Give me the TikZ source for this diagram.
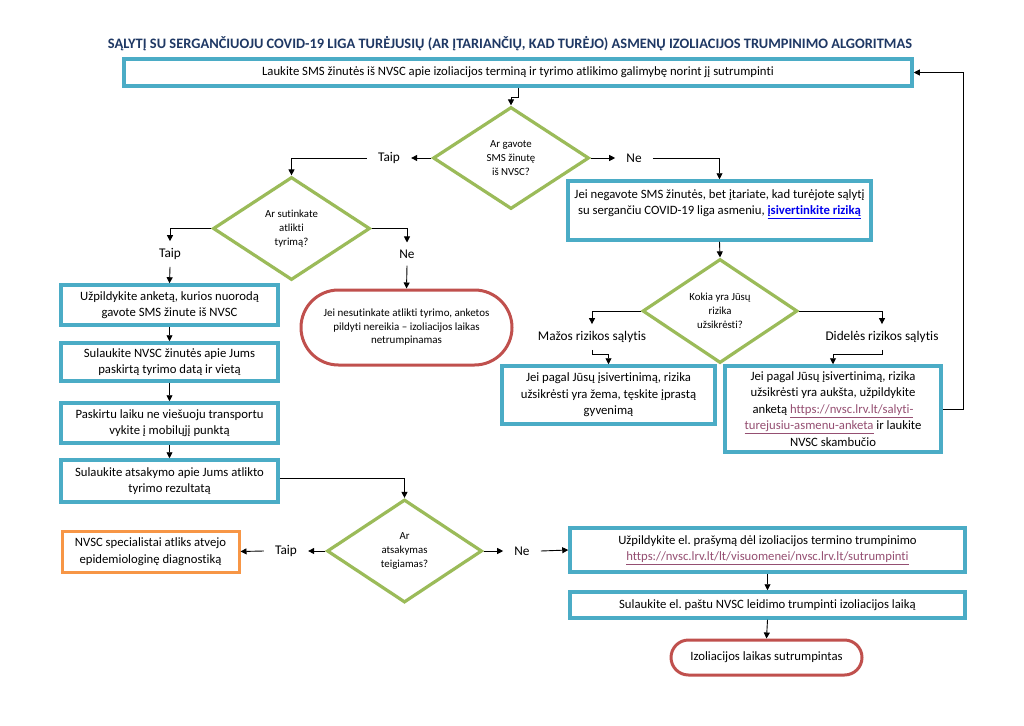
\documentclass[tikz,border=0pt]{standalone}
\usepackage{fontspec}
\setmainfont{Carlito}[Ligatures={NoCommon}]
\usetikzlibrary{shapes.geometric,shapes.misc,arrows.meta,calc}
\frenchspacing
\definecolor{tealb}{HTML}{4BACC6}
\definecolor{dgreen}{HTML}{9BBB59}
\definecolor{dred}{HTML}{C0504D}
\definecolor{dorange}{HTML}{F79646}
\definecolor{navy}{HTML}{1F3864}
\definecolor{linkb}{HTML}{0000EE}
\definecolor{linkp}{HTML}{954F72}
\newcommand{\bodyf}{\fontsize{12.7}{16.5}\selectfont}
\newcommand{\diaf}{\fontsize{10.8}{14}\selectfont}
\newcommand{\lblf}{\fontsize{13.3}{16}\selectfont}
\newcommand{\stadf}{\fontsize{11}{13.5}\selectfont}
\newcommand{\lnk}[1]{\textcolor{linkp}{\underline{#1}}}
\tikzset{
  tbox/.style={draw=tealb, line width=3.5pt, fill=white, align=center, inner sep=0pt, font=\bodyf},
  obox/.style={draw=dorange, line width=3pt, fill=white, align=center, inner sep=0pt, font=\bodyf},
  dia/.style={diamond, draw=dgreen, line width=3.2pt, fill=white, inner sep=0pt, align=center, font=\diaf},
  stad/.style={rounded rectangle, draw=dred, line width=3pt, fill=white, inner sep=0pt, align=center},
  lbl/.style={font=\lblf, inner xsep=11pt, inner ysep=7pt},
  arr/.style={-{Triangle[length=6pt,width=6pt]}, line width=0.9pt}
}
\begin{document}
\begin{tikzpicture}[x=1pt,y=-1pt]
\fill[white] (0,0) rectangle (1024,725);
\useasboundingbox (0,0) rectangle (1024,725);

\node[font=\bfseries, text=navy, inner sep=0pt] (title) at (510,44)
  {\resizebox{804pt}{!}{SĄLYTĮ SU SERGANČIUOJU COVID-19 LIGA TURĖJUSIŲ (AR ĮTARIANČIŲ, KAD TURĖJO) ASMENŲ IZOLIACIJOS TRUMPINIMO ALGORITMAS}};

\node[tbox, minimum width=788pt, minimum height=27pt] (top) at (518,72.5)
  {Laukite SMS žinutės iš NVSC apie izoliacijos terminą ir tyrimo atlikimo galimybę norint jį sutrumpinti};

\node[dia, minimum width=156pt, minimum height=102pt] (d1) at (511,158) {Ar gavote\\SMS žinutę\\iš NVSC?};
\node[lbl] (taip1) at (389,158) {Taip};
\node[lbl] (ne1) at (634,158) {Ne};

\node[tbox, minimum width=303pt, minimum height=59pt] (r1) at (719.5,210.5) {};
\node[align=center, font=\bodyf, inner sep=0pt] (r1t) at (719.5,204)
  {Jei negavote SMS žinutės, bet įtariate, kad turėjote sąlytį\\su sergančiu COVID-19 liga asmeniu, \textcolor{linkb}{\underline{\textbf{įsivertinkite riziką}}}};

\node[dia, minimum width=157pt, minimum height=103pt] (d2) at (291.5,228.5) {Ar sutinkate\\atlikti\\tyrimą?};
\node[lbl] (taip2) at (170,254) {Taip};
\node[lbl] (ne2) at (407,254) {Ne};

\node[tbox, minimum width=217pt, minimum height=40pt] (A) at (169.5,305) {Užpildykite anketą, kurios nuorodą\\gavote SMS žinute iš NVSC};
\node[tbox, minimum width=217pt, minimum height=38pt] (B) at (169.5,362) {Sulaukite NVSC žinutės apie Jums\\paskirtą tyrimo datą ir vietą};
\node[tbox, minimum width=217pt, minimum height=40pt] (C) at (169.5,423) {Paskirtu laiku ne viešuoju transportu\\vykite į mobilųjį punktą};
\node[tbox, minimum width=217pt, minimum height=42pt] (D) at (169.5,481) {Sulaukite atsakymo apie Jums atlikto\\tyrimo rezultatą};

\node[stad, minimum width=211pt, minimum height=75pt, font=\stadf] (red1) at (406.5,327.5)
  {Jei nesutinkate atlikti tyrimo, anketos\\pildyti nereikia – izoliacijos laikas\\netrumpinamas};

\node[dia, minimum width=155pt, minimum height=104pt] (d3) at (720,311) {Kokia yra Jūsų\\rizika\\užsikrėsti?};
\node[lbl] (maz) at (592,337) {Mažos rizikos sąlytis};
\node[lbl] (did) at (882,337) {Didelės rizikos sąlytis};

\node[tbox, minimum width=213pt, minimum height=58pt] (low) at (608.5,395)
  {Jei pagal Jūsų įsivertinimą, rizika\\užsikrėsti yra žema, tęskite įprastą\\gyvenimą};
\node[tbox, minimum width=216pt, minimum height=86pt] (high) at (833,409)
  {Jei pagal Jūsų įsivertinimą, rizika\\užsikrėsti yra aukšta, užpildykite\\anketą \lnk{https://nvsc.lrv.lt/salyti-}\\\lnk{turejusiu-asmenu-anketa} ir laukite\\NVSC skambučio};

\node[dia, minimum width=155pt, minimum height=103pt] (d4) at (404.5,551) {Ar\\atsakymas\\teigiamas?};
\node[lbl] (taip4) at (286,551) {Taip};
\node[lbl] (ne4) at (522,551) {Ne};

\node[obox, minimum width=177pt, minimum height=41pt] (orange) at (150.5,551.5)
  {NVSC specialistai atliks atvejo\\epidemiologinę diagnostiką};

\node[tbox, minimum width=395pt, minimum height=44pt] (E) at (767.5,550)
  {Užpildykite el. prašymą dėl izoliacijos termino trumpinimo\\\lnk{https://nvsc.lrv.lt/lt/visuomenei/nvsc.lrv.lt/sutrumpinti}};
\node[tbox, minimum width=395pt, minimum height=26pt] (F) at (767.5,605)
  {Sulaukite el. paštu NVSC leidimo trumpinti izoliacijos laiką};
\node[stad, minimum width=191pt, minimum height=35pt, font=\bodyf] (G) at (766.5,657.5)
  {Izoliacijos laikas sutrumpintas};

% connectors
\draw[arr] (top.south) -- ++(0,10) -| (d1.north);
\draw[arr] (d1.west) -- (taip1.east);
\draw[arr] (taip1.west) -| (d2.north);
\draw[arr] (d1.east) -- (ne1.west);
\draw[arr] (ne1.east) -| (r1.north);
\draw[arr] (r1.south) -- (d3.north);

\draw[arr] (d2.west) -| (taip2.north);
\draw[arr] (taip2.south) -- (A.north);
\draw[arr] (d2.east) -| (ne2.north);
\draw[arr] (ne2.south) -- (red1.north);

\draw[arr] (A.south) -- (B.north);
\draw[arr] (B.south) -- (C.north);
\draw[arr] (C.south) -- (D.north);
\draw[arr] ($(D.east)+(0,-3)$) -| (d4.north);

\draw[arr] (d4.west) -- (taip4.east);
\draw[arr] (taip4.west) -- (orange.east);
\draw[arr] (d4.east) -- (ne4.west);
\draw[arr] (ne4.east) -- (E.west);
\draw[arr] (E.south) -- (F.north);
\draw[arr] (F.south) -- (G.north);

\draw[arr] (d3.west) -| (maz.north);
\draw[arr] (maz.south) -- ++(0,5) -| (low.north);
\draw[arr] (d3.east) -| (did.north);
\draw[arr] (did.south) -- ++(0,5) -| (high.north);
\draw[arr] (high.east) -- ++(21,0) |- (top.east);
\end{tikzpicture}
\end{document}
